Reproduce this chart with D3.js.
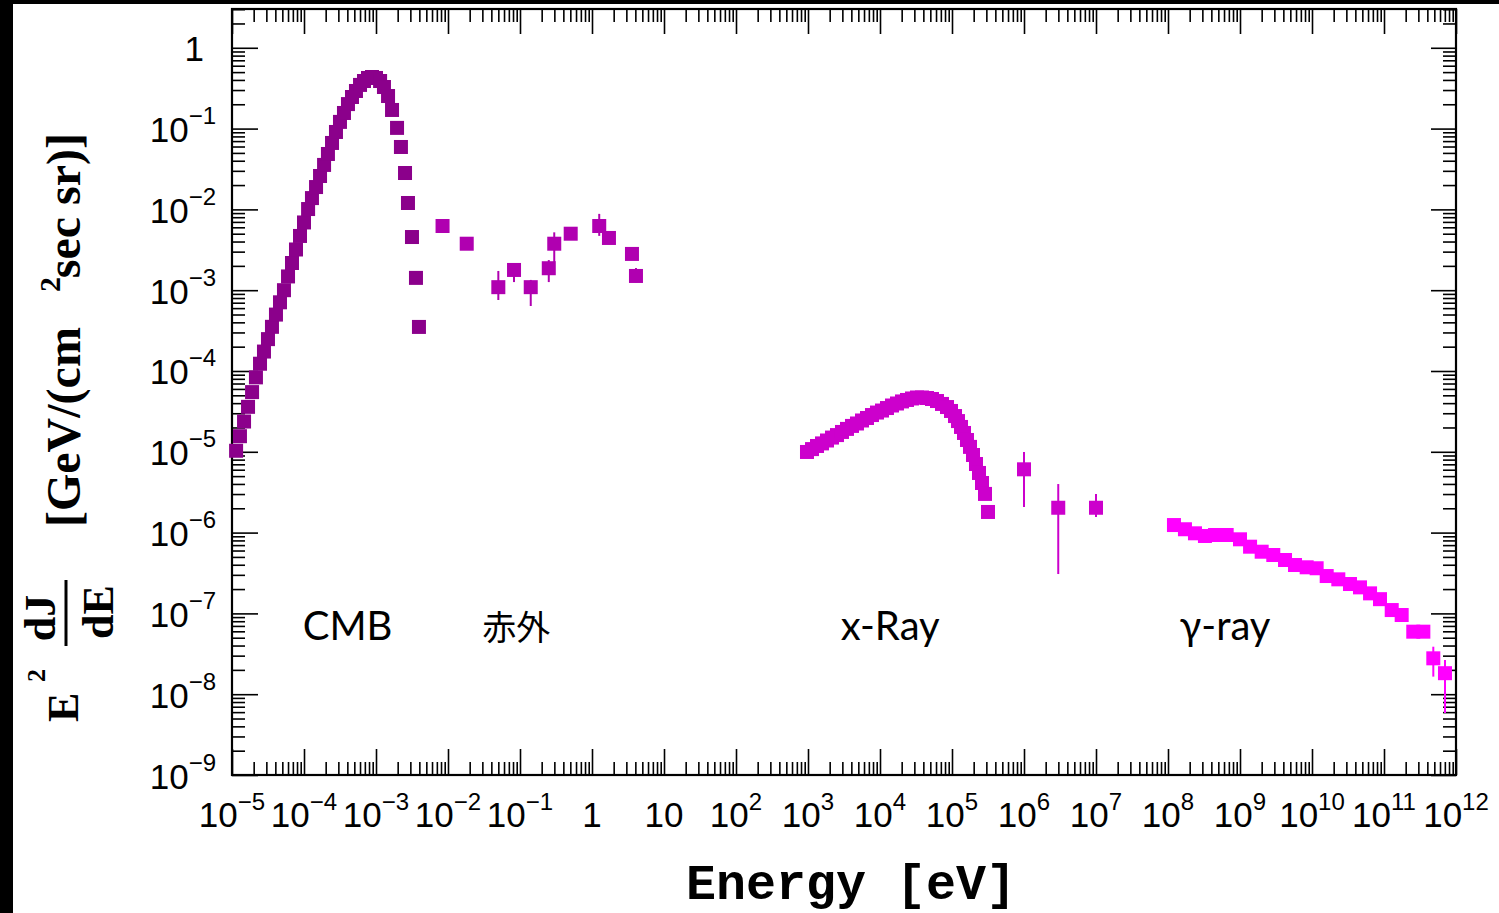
<!DOCTYPE html>
<html>
<head>
<meta charset="utf-8">
<script src="https://cdn.jsdelivr.net/npm/d3@7"></script>
<style>
  body { margin: 0; background: #fff; }
  svg { display: block; }
</style>
</head>
<body>
<script>
// CMB (dense blackbody points)
const cmbE = [1.14e-5, 1.29e-5, 1.47e-5, 1.67e-5, 1.90e-5, 2.15e-5, 2.45e-5, 2.78e-5, 3.16e-5, 3.59e-5,
  4.08e-5, 4.64e-5, 5.27e-5, 6.0e-5, 6.81e-5, 7.74e-5, 8.8e-5, 1.0e-4, 1.14e-4, 1.29e-4,
  1.47e-4, 1.67e-4, 1.90e-4, 2.15e-4, 2.45e-4, 2.78e-4, 3.16e-4, 3.59e-4, 4.08e-4, 4.64e-4,
  5.27e-4, 6.0e-4, 6.81e-4, 7.74e-4, 8.8e-4, 1.0e-3, 1.14e-3, 1.29e-3, 1.47e-3, 1.67e-3,
  1.96e-3, 2.22e-3, 2.53e-3, 2.78e-3, 3.16e-3, 3.59e-3, 3.95e-3];
const cmbF = [1.03e-5, 1.56e-5, 2.37e-5, 3.6e-5, 5.48e-5, 8.34e-5, 1.23e-4, 1.74e-4, 2.48e-4, 3.52e-4,
  4.99e-4, 7.08e-4, 1.0e-3, 1.48e-3, 2.17e-3, 3.19e-3, 4.69e-3, 6.89e-3, 1.01e-2, 1.38e-2,
  1.89e-2, 2.59e-2, 3.55e-2, 4.85e-2, 6.64e-2, 9.08e-2, 0.121, 0.156, 0.201, 0.246,
  0.292, 0.347, 0.388, 0.423, 0.435, 0.423, 0.388, 0.327, 0.253, 0.170,
  0.102, 5.92e-2, 2.82e-2, 1.20e-2, 4.55e-3, 1.42e-3, 3.51e-4];

// infrared
const irE  = [8.4e-3, 1.82e-2, 5.0e-2, 8.26e-2, 0.141, 0.251, 0.299, 0.506, 1.26, 1.72, 3.59, 4.08];
const irF  = [6.23e-3, 3.76e-3, 1.09e-3, 1.78e-3, 1.09e-3, 1.87e-3, 3.76e-3, 5.0e-3, 6.23e-3, 4.43e-3, 2.81e-3, 1.50e-3];
const irLo = [null, null, 7.56e-4, 1.26e-3, 6.37e-4, 1.26e-3, 2.23e-3, null, 4.7e-3, null, null, 1.25e-3];
const irHi = [null, null, 1.73e-3, 2.17e-3, 1.34e-3, 2.36e-3, 5.2e-3, null, 8.8e-3, null, null, 1.88e-3];

// x-ray
const xrayE = [968, 1137, 1334, 1565, 1836, 2154, 2527, 2965, 3480, 4083,
  4790, 5623, 6597, 7740, 9080, 10660, 12500, 14680, 17220, 20210,
  23710, 27830, 32650, 38310, 44950, 52740, 61890, 72620, 85210, 96850,
  1.101e5, 1.211e5, 1.334e5, 1.468e5, 1.615e5, 1.778e5, 1.957e5, 2.154e5, 2.371e5, 2.61e5,
  2.873e5, 3.162e5];
const xrayF = [9.95e-6, 1.08e-5, 1.18e-5, 1.27e-5, 1.38e-5, 1.50e-5, 1.61e-5, 1.76e-5, 1.92e-5, 2.09e-5,
  2.24e-5, 2.44e-5, 2.62e-5, 2.85e-5, 3.06e-5, 3.24e-5, 3.48e-5, 3.74e-5, 3.96e-5, 4.20e-5,
  4.38e-5, 4.57e-5, 4.70e-5, 4.70e-5, 4.63e-5, 4.50e-5, 4.25e-5, 3.91e-5, 3.58e-5, 3.20e-5,
  2.77e-5, 2.40e-5, 2.03e-5, 1.71e-5, 1.40e-5, 1.15e-5, 9.13e-6, 7.06e-6, 5.47e-6, 4.11e-6,
  3.01e-6, 1.80e-6];

// MeV points
const midE  = [1.0e6, 2.99e6, 1.0e7];
const midF  = [6.07e-6, 2.03e-6, 2.03e-6];
const midLo = [2.07e-6, 3.07e-7, 1.56e-6];
const midHi = [9.95e-6, 3.99e-6, 3.01e-6];

// gamma-ray
const gammaE = [1.21e8, 1.72e8, 2.37e8, 3.26e8, 4.5e8, 6.53e8, 1e9, 1.38e9, 2.0e9, 2.9e9,
  4.22e9, 5.81e9, 8.43e9, 1.16e10, 1.6e10, 2.32e10, 3.37e10, 4.64e10, 6.4e10, 8.8e10,
  1.28e11, 1.76e11, 2.55e11, 3.52e11, 4.84e11, 7.03e11];
const gammaF = [1.24e-6, 1.10e-6, 9.8e-7, 9.08e-7, 9.34e-7, 9.34e-7, 8.26e-7, 6.69e-7, 5.8e-7, 5.28e-7,
  4.58e-7, 3.97e-7, 3.72e-7, 3.62e-7, 2.9e-7, 2.64e-7, 2.31e-7, 2.10e-7, 1.77e-7, 1.50e-7,
  1.10e-7, 9.55e-8, 5.94e-8, 5.94e-8, 2.78e-8, 1.82e-8];
const gammaLo = [null, null, null, null, null, null, null, null, null, null, null, null, null,
  null, null, null, null, null, null, null, null, null, null, null, 1.65e-8, 5.85e-9];
const gammaHi = [null, null, null, null, null, null, null, null, null, null, null, null, null,
  null, null, null, null, null, null, null, null, null, null, null, 3.87e-8, 2.65e-8];

const xLabels = [-5, -4, -3, -2, -1, 0, 1, 2, 3, 4, 5, 6, 7, 8, 9, 10, 11, 12];
const yLabels = [0, -1, -2, -3, -4, -5, -6, -7, -8, -9];
const notes = [
  { text: "CMB", e: 9.6e-5 },
  { text: "赤外", e: 3.0e-2 },
  { text: "x-Ray", e: 2.85e3 },
  { text: "γ-ray", e: 1.45e8 }
];

const W = 1499, H = 913;
const L = 232, R = 1456, T = 9, B = 775;

const svg = d3.select("body").append("svg").attr("width", W).attr("height", H);
svg.append("rect").attr("width", W).attr("height", H).attr("fill", "#fff");
// dark frame of the screenshot
svg.append("rect").attr("x", 0).attr("y", 0).attr("width", 13).attr("height", H).attr("fill", "#000");
svg.append("rect").attr("x", 0).attr("y", 0).attr("width", W).attr("height", 4).attr("fill", "#000");

const x = d3.scaleLog().domain([1e-5, 1e12]).range([L, R]);
const y = d3.scaleLog().domain([1e-9, 3.02]).range([B, T]);

// tick values
var xMinor = [], xMajor = [];
for (var n = -5; n < 12; n++) {
    xMajor.push(Math.pow(10, n));
    for (var k = 2; k <= 9; k++) xMinor.push(k * Math.pow(10, n));
}
xMajor.push(1e12);
var yMinor = [], yMajor = [];
for (var n = -9; n <= 0; n++) {
    yMajor.push(Math.pow(10, n));
    for (var k = 2; k <= 9; k++) {
        if (k * Math.pow(10, n) <= 3.02) yMinor.push(k * Math.pow(10, n));
    }
}

function ticks(axis, vals, len, tr) {
    const g = svg.append("g").attr("transform", tr)
        .call(axis.tickValues(vals).tickSize(-len).tickFormat(""));
    g.select(".domain").remove();
    g.selectAll(".tick line").attr("stroke", "#000").attr("stroke-width", 1.6);
}
ticks(d3.axisBottom(x), xMinor, 13, "translate(0," + B + ")");
ticks(d3.axisBottom(x), xMajor, 26, "translate(0," + B + ")");
ticks(d3.axisTop(x), xMinor, 13, "translate(0," + T + ")");
ticks(d3.axisTop(x), xMajor, 25, "translate(0," + T + ")");
ticks(d3.axisLeft(y), yMinor, 13, "translate(" + L + ",0)");
ticks(d3.axisLeft(y), yMajor, 26, "translate(" + L + ",0)");
ticks(d3.axisRight(y), yMinor, 13, "translate(" + R + ",0)");
ticks(d3.axisRight(y), yMajor, 25, "translate(" + R + ",0)");

svg.append("rect").attr("x", L).attr("y", T).attr("width", R - L).attr("height", B - T)
    .attr("fill", "none").attr("stroke", "#000").attr("stroke-width", 2.2);

// tick labels
const lab = svg.append("g").attr("font-family", "'Liberation Sans', Arial, Helvetica, sans-serif")
    .attr("font-size", 35).attr("fill", "#000");
xLabels.forEach(function (n) {
    const t = lab.append("text").attr("x", x(Math.pow(10, n))).attr("y", 827).attr("text-anchor", "middle");
    if (n === 0) t.text("1");
    else if (n === 1) t.text("10");
    else {
        t.append("tspan").text("10");
        t.append("tspan").attr("dy", -17).attr("font-size", 24).text(n < 0 ? "\u2212" + (-n) : n);
    }
});
yLabels.forEach(function (n) {
    const yy = y(Math.pow(10, n)) + 13.5;
    if (n === 0) {
        lab.append("text").attr("x", 204).attr("y", yy).attr("text-anchor", "end").text("1");
    } else {
        const t = lab.append("text").attr("x", 216).attr("y", yy).attr("text-anchor", "end");
        t.append("tspan").text("10");
        t.append("tspan").attr("dy", -18).attr("font-size", 24).text("\u2212" + (-n));
    }
});

// axis titles
svg.append("text").attr("x", 686).attr("y", 899)
    .attr("font-family", "'Courier New', 'Liberation Mono', monospace").attr("font-weight", "bold")
    .attr("font-size", 50).attr("textLength", 330)
    .text("Energy [eV]");

const ty = svg.append("g").attr("transform", "rotate(-90)")
    .attr("font-family", "'Liberation Serif', 'Times New Roman', serif").attr("font-weight", "bold");
ty.append("text").attr("x", -722).attr("y", 78).attr("font-size", 44).text("E");
ty.append("text").attr("x", -682).attr("y", 45).attr("font-size", 26).text("2");
ty.append("text").attr("x", -618).attr("y", 55).attr("text-anchor", "middle").attr("font-size", 44).text("dJ");
ty.append("line").attr("x1", -646).attr("x2", -580).attr("y1", 66).attr("y2", 66)
    .attr("stroke", "#000").attr("stroke-width", 3);
ty.append("text").attr("x", -612).attr("y", 113).attr("text-anchor", "middle").attr("font-size", 44).text("dE");
ty.append("text").attr("x", -527).attr("y", 80).attr("font-size", 48).text("[GeV/(cm");
ty.append("text").attr("x", -133).attr("y", 80).attr("text-anchor", "end").attr("font-size", 48).text("sec sr)]");
ty.append("text").attr("x", -292).attr("y", 60).attr("font-size", 30).text("2");

// data
function series(E, F, lo, hi, color, size) {
    const pts = E.map(function (e, i) {
        return { e: e, f: F[i], lo: lo ? lo[i] : null, hi: hi ? hi[i] : null };
    });
    const g = svg.append("g");
    g.selectAll("line").data(pts.filter(function (d) { return d.lo != null; }))
        .enter().append("line")
        .attr("x1", function (d) { return x(d.e); }).attr("x2", function (d) { return x(d.e); })
        .attr("y1", function (d) { return y(d.lo); }).attr("y2", function (d) { return y(d.hi); })
        .attr("stroke", color).attr("stroke-width", 2);
    g.selectAll("rect").data(pts).enter().append("rect")
        .attr("x", function (d) { return x(d.e) - size / 2; })
        .attr("y", function (d) { return y(d.f) - size / 2; })
        .attr("width", size).attr("height", size).attr("fill", color);
}
series(cmbE, cmbF, null, null, "#8b008b", 14);
series(irE, irF, irLo, irHi, "#b000b0", 14);
series(xrayE, xrayF, null, null, "#cc00cc", 14);
series(midE, midF, midLo, midHi, "#cc00cc", 14);
series(gammaE, gammaF, gammaLo, gammaHi, "#ff00ff", 14);

// region names
notes.forEach(function (d) {
    svg.append("text").attr("x", x(d.e)).attr("y", 640)
        .attr("font-family", d.text === "赤外" ? "'Noto Sans CJK JP', sans-serif" : "Lato, 'Open Sans', sans-serif")
        .attr("font-size", d.text === "赤外" ? 34 : 40).attr("fill", "#000")
        .text(d.text);
});
</script>
</body>
</html>
